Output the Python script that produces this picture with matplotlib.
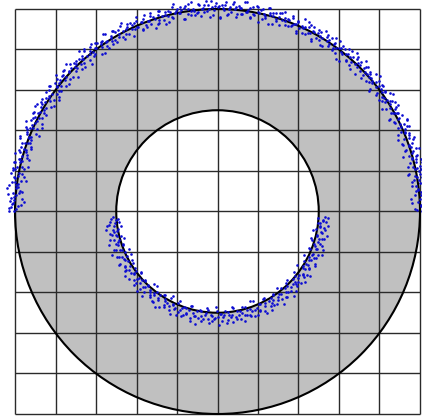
import numpy as np
import matplotlib
matplotlib.use("Agg")
import matplotlib.pyplot as plt
from matplotlib.patches import Wedge, Circle

# ring geometry (outer radius = 1)
outer_radius = 1.0
inner_radius = 0.5
grid_ticks = [-1.0, -0.8, -0.6, -0.4, -0.2, 0.0, 0.2, 0.4, 0.6, 0.8, 1.0]

# points along the outer edge: angle (deg) and radial offset (x 0.001)
outer_deg = [
    0.2, 0.8, 1.5, 1.9, 2.7, 3.3, 3.8, 4.5, 5.1, 5.8,
    6.4, 6.9, 7.6, 8.1, 8.8, 9.2, 9.9, 10.6, 11.0, 11.7,
    12.3, 12.8, 13.6, 14.1, 14.7, 15.4, 15.9, 16.5, 17.2, 17.8,
    18.1, 18.9, 19.4, 20.2, 20.7, 21.3, 21.8, 22.6, 23.0, 23.7,
    24.4, 24.9, 25.5, 26.1, 26.8, 27.2, 28.0, 28.5, 29.1, 29.6,
    30.3, 30.8, 31.6, 32.0, 32.7, 33.4, 33.9, 34.5, 35.0, 35.8,
    36.2, 36.9, 37.5, 38.0, 38.8, 39.3, 39.8, 40.6, 41.1, 41.7,
    42.4, 42.9, 43.5, 44.2, 44.6, 45.4, 45.9, 46.5, 47.1, 47.7,
    48.3, 48.8, 49.6, 50.1, 50.7, 51.2, 51.9, 52.4, 53.1, 53.6,
    54.2, 54.9, 55.3, 56.1, 56.6, 57.2, 57.9, 58.3, 59.0, 59.6,
    60.4, 60.8, 61.5, 62.1, 62.6, 63.3, 63.8, 64.6, 65.0, 65.7,
    66.3, 66.9, 67.4, 68.2, 68.7, 69.3, 69.8, 70.5, 71.2, 71.6,
    72.4, 72.9, 73.5, 74.0, 74.8, 75.2, 75.9, 76.4, 77.1, 77.7,
    78.2, 78.8, 79.5, 80.1, 80.6, 81.4, 81.8, 82.5, 83.1, 83.7,
    84.3, 84.8, 85.6, 86.0, 86.7, 87.3, 87.9, 88.4, 89.2, 89.6,
    90.3, 90.9, 91.4, 92.1, 92.7, 93.2, 93.9, 94.5, 95.0, 95.7,
    96.4, 96.8, 97.5, 98.2, 98.6, 99.3, 99.9, 100.4, 101.1, 101.7,
    102.2, 102.9, 103.4, 104.1, 104.7, 105.3, 105.8, 106.6, 107.0, 107.7,
    108.3, 108.8, 109.5, 110.0, 110.8, 111.2, 111.9, 112.4, 113.1, 113.6,
    114.4, 114.9, 115.3, 116.1, 116.7, 117.2, 117.8, 118.5, 119.1, 119.7,
    120.2, 120.9, 121.4, 122.0, 122.8, 123.3, 123.8, 124.6, 125.1, 125.6,
    126.3, 126.8, 127.6, 128.1, 128.6, 129.4, 129.9, 130.4, 131.2, 131.7,
    132.2, 132.9, 133.5, 134.0, 134.7, 135.3, 135.9, 136.5, 137.0, 137.8,
    138.3, 138.9, 139.4, 140.2, 140.6, 141.3, 141.9, 142.4, 143.1, 143.7,
    144.2, 144.8, 145.5, 146.1, 146.6, 147.4, 147.8, 148.5, 149.2, 149.6,
    150.4, 150.9, 151.5, 152.0, 152.7, 153.3, 153.8, 154.6, 155.1, 155.7,
    156.2, 156.9, 157.4, 158.1, 158.7, 159.2, 159.9, 160.5, 161.0, 161.8,
    162.3, 162.8, 163.6, 164.1, 164.7, 165.2, 165.9, 166.4, 167.1, 167.7,
    168.2, 168.9, 169.5, 170.0, 170.7, 171.3, 171.8, 172.6, 173.1, 173.6,
    174.3, 174.8, 175.4, 176.2, 176.7, 177.3, 177.8, 178.5, 179.1, 179.8,
    0.5, 1.1, 1.8, 2.4, 3.0, 3.5, 4.2, 4.8, 5.5, 6.0,
    6.7, 7.2, 7.8, 8.5, 9.0, 9.6, 10.3, 10.8, 11.4, 12.1,
    12.6, 13.2, 13.9, 14.4, 15.0, 15.7, 16.2, 16.8, 17.5, 18.0,
    18.5, 19.2, 19.8, 20.4, 21.0, 21.6, 22.2, 22.9, 23.4, 24.0,
    24.7, 25.2, 25.8, 26.5, 27.0, 27.6, 28.3, 28.8, 29.4, 30.0,
    30.6, 31.2, 31.9, 32.4, 33.0, 33.7, 34.2, 34.8, 35.5, 36.0,
    36.5, 37.2, 37.8, 38.5, 39.0, 39.6, 40.2, 40.9, 41.4, 42.0,
    42.7, 43.2, 43.8, 44.4, 45.0, 45.7, 46.2, 46.9, 47.4, 48.0,
    48.6, 49.2, 49.8, 50.4, 51.0, 51.6, 52.2, 52.8, 53.4, 54.0,
    54.6, 55.1, 55.8, 56.4, 57.0, 57.6, 58.1, 58.8, 59.4, 60.0,
    60.6, 61.2, 61.8, 62.4, 63.0, 63.6, 64.2, 64.8, 65.4, 66.0,
    66.6, 67.2, 67.8, 68.4, 69.0, 69.6, 70.2, 70.8, 71.4, 72.0,
    72.6, 73.2, 73.8, 74.4, 75.0, 75.6, 76.2, 76.8, 77.4, 78.0,
    78.5, 79.1, 79.8, 80.4, 81.0, 81.6, 82.1, 82.8, 83.4, 84.0,
    84.6, 85.1, 85.8, 86.4, 87.0, 87.6, 88.2, 88.8, 89.4, 90.0,
    90.6, 91.2, 91.8, 92.4, 93.0, 93.6, 94.2, 94.8, 95.4, 96.0,
    96.6, 97.2, 97.8, 98.4, 99.0, 99.6, 100.2, 100.8, 101.4, 102.0,
    102.6, 103.2, 103.8, 104.4, 105.0, 105.6, 106.2, 106.8, 107.4, 108.0,
    108.6, 109.2, 109.8, 110.4, 111.0, 111.6, 112.2, 112.8, 113.4, 114.0,
    114.6, 115.2, 115.8, 116.4, 117.0, 117.6, 118.2, 118.8, 119.4, 120.0,
    120.6, 121.2, 121.8, 122.4, 123.0, 123.6, 124.2, 124.8, 125.4, 126.0,
    126.6, 127.2, 127.8, 128.4, 129.0, 129.6, 130.2, 130.8, 131.4, 132.0,
    132.6, 133.2, 133.8, 134.4, 135.0, 135.6, 136.2, 136.8, 137.4, 138.0,
    138.6, 139.2, 139.8, 140.4, 141.0, 141.6, 142.2, 142.8, 143.4, 144.0,
    144.6, 145.2, 145.8, 146.4, 147.0, 147.6, 148.2, 148.8, 149.4, 150.0,
    150.6, 151.2, 151.8, 152.4, 153.0, 153.6, 154.2, 154.8, 155.4, 156.0,
    156.6, 157.2, 157.8, 158.4, 159.0, 159.6, 160.2, 160.8, 161.4, 162.0,
    162.6, 163.2, 163.8, 164.4, 165.0, 165.6, 166.2, 166.8, 167.4, 168.0,
    168.6, 169.2, 169.8, 170.4, 171.0, 171.6, 172.2, 172.8, 173.4, 174.0,
    174.6, 175.2, 175.8, 176.4, 177.0, 177.6, 178.2, 178.8, 179.4, 180.0,
]
outer_off = [
    12, -25, 4, 33, -8, 18, -41, 7, 26, -14,
    -3, 21, -30, 9, 44, -17, 2, 15, -36, 28,
    6, -11, 38, -22, 13, -5, 24, -46, 10, 31,
    -19, 1, 17, -28, 35, -9, 20, 5, -33, 11,
    27, -15, -2, 40, -24, 8, -38, 16, 3, -12,
    22, -6, 30, -43, 14, 0, -20, 36, -10, 19,
    -27, 9, 25, -4, -35, 13, 42, -16, 6, -1,
    18, -31, 3, 23, -13, 47, -7, 10, -39, 29,
    -8, 15, -21, 34, 2, -44, 20, -3, 12, -26,
    37, -11, 7, -18, 26, -1, 16, -34, 41, 4,
    -14, 24, -29, 11, -5, 32, -23, 8, 1, 45,
    -37, 17, 5, -9, 28, -19, 13, -2, 39, -30,
    9, -16, 21, 3, -42, 15, 34, -7, -24, 19,
    2, 30, -12, 25, -32, 7, -4, 43, -18, 10,
    -21, 14, 36, -10, 1, -28, 22, 6, -45, 16,
    29, -3, 11, -38, 19, 40, -15, 4, 24, -8,
    -25, 8, -1, 33, -13, 17, -36, 27, 0, 12,
    46, -20, 15, -6, 21, -40, 5, 31, -11, -29,
    13, 38, -17, 2, -26, 18, 10, -33, 23, -4,
    -9, 26, -40, 14, 7, -15, 35, -22, 1, 20,
    31, -12, 6, -27, 42, 0, -18, 16, -6, 24,
    -34, 11, 28, -2, -20, 37, 4, -41, 19, 9,
    15, -7, -30, 22, 3, -14, 44, 8, -23, 30,
    -1, 19, -36, 12, 27, -10, 5, -26, 34, -17,
    23, -44, 10, 1, -12, 29, -31, 17, 40, -5,
    -16, 6, 32, -21, 14, -3, 25, -39, 9, 2,
    35, -24, 18, -8, 0, 43, -14, 11, -28, 21,
    -6, 28, -19, 4, -37, 16, 7, 33, -11, -22,
    20, -2, 39, -32, 12, -17, 26, 3, -9, 47,
    -29, 13, -4, 24, 8, -43, 18, -13, 30, 5,
    -17, 29, 6, -38, 14, 2, 33, -21, 9, -2,
    41, -13, 19, -30, 5, 25, -9, -44, 16, 0,
    23, -33, 11, 37, -6, 20, -15, 3, 45, -27,
    8, -1, -24, 30, 13, -40, 21, 7, -12, 36,
    -5, 18, 39, -20, 2, 27, -35, 12, -8, 15,
    34, -26, 4, 22, -11, 43, -3, -31, 17, 6,
    -18, 28, 10, -42, 24, -7, 1, 35, -23, 14,
    3, -14, 31, 16, -37, 9, 26, -4, 20, -28,
    44, 5, -19, 12, 32, -10, -46, 23, 7, -1,
    -22, 17, 38, -6, 11, -33, 28, 0, -16, 25,
    13, -39, 4, 29, -12, 19, 42, -25, 8, -7,
    -30, 22, 1, -15, 36, 10, -21, 14, -3, 33,
    26, -8, -34, 18, 5, 40, -17, 2, 24, -43,
    7, 31, -10, -26, 15, -2, 45, -18, 11, 21,
    -36, 3, 27, 12, -23, 34, -5, 19, -41, 9,
    16, -29, 38, 0, -9, 24, 6, -33, 30, -14,
    -4, 42, -20, 10, 28, -38, 13, -1, 22, 4,
    37, -11, 18, -32, 7, -16, 32, 15, -27, 1,
    -45, 20, 2, 35, -13, 8, -24, 41, -6, 17,
    11, -3, 29, -19, 46, 4, -34, 23, -10, 30,
    -25, 14, -7, 39, 1, -29, 18, 9, -40, 26,
    5, 36, -17, 12, -1, 31, -22, 44, 3, -12,
    -32, 21, 8, -9, 27, 15, -43, 6, 33, -20,
    19, -5, 43, -28, 10, 24, 0, -15, 37, -35,
    2, 30, -22, 16, -39, 7, 28, -11, 13, 40,
    -26, 9, 34, -4, 20, -31, 3, 47, -18, 12,
    25, -42, 14, 1, -14, 38, -7, 22, -30, 6,
    -10, 17, 42, -24, 9, -2, 29, -37, 16, 33,
    31, -16, 3, 21, -45, 13, -8, 36, 0, -21,
    -13, 40, 8, -35, 24, 11, -27, 19, -3, 28,
]

# points along the inner edge (lower half)
inner_deg = [
    183.2, 184.1, 185.5, 186.4, 187.6, 188.5, 189.9, 190.8, 191.7, 193.0,
    194.1, 195.2, 196.3, 197.4, 198.8, 199.6, 200.9, 202.1, 203.0, 204.2,
    205.4, 206.3, 207.7, 208.6, 209.8, 210.9, 212.1, 213.0, 214.3, 215.4,
    216.5, 217.6, 218.9, 219.8, 221.0, 222.2, 223.1, 224.5, 225.4, 226.6,
    227.7, 228.8, 230.0, 231.1, 232.3, 233.2, 234.6, 235.5, 236.8, 237.9,
    239.0, 240.1, 241.4, 242.3, 243.6, 244.7, 245.8, 247.0, 248.1, 249.2,
    250.4, 251.5, 252.6, 253.8, 254.9, 256.0, 257.3, 258.2, 259.5, 260.6,
    261.7, 262.9, 264.0, 265.1, 266.4, 267.3, 268.6, 269.7, 270.8, 272.0,
    273.1, 274.3, 275.4, 276.5, 277.8, 278.7, 280.0, 281.1, 282.2, 283.4,
    284.5, 285.7, 286.8, 287.9, 289.1, 290.2, 291.4, 292.5, 293.6, 294.9,
    296.0, 297.1, 298.3, 299.4, 300.6, 301.7, 302.8, 304.0, 305.2, 306.3,
    307.4, 308.6, 309.7, 310.9, 312.0, 313.1, 314.3, 315.5, 316.6, 317.7,
    318.9, 320.0, 321.2, 322.3, 323.4, 324.6, 325.8, 326.9, 328.0, 329.2,
    330.3, 331.5, 332.6, 333.7, 334.9, 336.1, 337.2, 338.3, 339.5, 340.6,
    341.8, 342.9, 344.0, 345.2, 346.4, 347.5, 348.6, 349.8, 351.0, 352.1,
    353.3, 354.4, 355.6, 356.8,
    183.8, 184.7, 186.0, 187.0, 188.1, 189.2, 190.3, 191.3, 192.4, 193.5,
    194.6, 195.8, 196.9, 198.0, 199.2, 200.3, 201.5, 202.6, 203.6, 204.8,
    205.9, 207.0, 208.2, 209.2, 210.4, 211.5, 212.6, 213.7, 214.9, 216.0,
    217.1, 218.3, 219.3, 220.4, 221.6, 222.7, 223.8, 224.9, 226.0, 227.2,
    228.3, 229.4, 230.6, 231.7, 232.8, 233.9, 235.1, 236.2, 237.3, 238.4,
    239.6, 240.7, 241.9, 243.0, 244.1, 245.2, 246.4, 247.5, 248.6, 249.8,
    250.9, 252.0, 253.2, 254.3, 255.4, 256.6, 257.7, 258.9, 260.0, 261.1,
    262.3, 263.4, 264.5, 265.7, 266.8, 267.9, 269.1, 270.2, 271.4, 272.5,
    273.6, 274.8, 275.9, 277.1, 278.2, 279.3, 280.5, 281.6, 282.8, 283.9,
    285.1, 286.2, 287.3, 288.5, 289.6, 290.8, 291.9, 293.0, 294.2, 295.4,
    296.5, 297.6, 298.8, 299.9, 301.1, 302.2, 303.4, 304.5, 305.7, 306.8,
    307.9, 309.1, 310.3, 311.4, 312.5, 313.7, 314.8, 316.0, 317.1, 318.3,
    319.4, 320.6, 321.7, 322.8, 324.0, 325.2, 326.3, 327.4, 328.6, 329.7,
    330.9, 332.0, 333.2, 334.3, 335.5, 336.6, 337.7, 338.9, 340.0, 341.2,
    342.3, 343.5, 344.6, 345.8, 346.9, 348.1, 349.2, 350.4, 351.5, 352.7,
    353.8, 355.0, 356.2, 357.3,
]
inner_off = [
    18, -6, 34, 9, 52, -20, 25, 3, 41, 14,
    -11, 29, 7, 60, 19, -2, 37, 11, -25, 46,
    22, 1, 15, 55, -14, 31, 8, 43, -4, 27,
    12, 49, -17, 20, 36, 5, -8, 58, 24, 2,
    39, -22, 16, 30, 10, -3, 47, 21, 63, -12,
    6, 33, 17, -28, 44, 13, 26, -7, 51, 19,
    0, 38, 23, 9, -15, 56, 28, 4, 35, -1,
    48, 16, -19, 31, 11, 42, 24, -9, 61, 7,
    20, -5, 36, 14, 53, -23, 27, 2, 45, 17,
    -13, 32, 8, 40, 22, -30, 50, 15, 29, 3,
    57, 10, -16, 37, 25, 1, 46, -6, 19, 34,
    13, 42, -10, 28, 64, 5, 21, -18, 39, 16,
    30, -2, 52, 11, 24, 44, -26, 18, 35, 7,
    -8, 47, 22, 3, 38, 14, 59, -14, 26, 9,
    41, 17, -21, 33, 6, 54, 20, -4, 31, 12,
    2, 36, 25, 48,
    27, 4, -13, 40, 15, 58, -3, 21, 33, 8,
    50, -18, 12, 26, -7, 44, 18, 62, 1, 35,
    -24, 16, 47, 6, 29, -10, 38, 23, 55, -1,
    14, -20, 32, 9, 49, 24, -5, 41, 17, 3,
    60, 11, -27, 36, 20, 45, 0, 28, -9, 53,
    15, 39, -14, 25, 7, 57, 19, -22, 34, 10,
    46, 2, 30, -17, 42, 13, 26, 65, -6, 21,
    37, 5, -11, 51, 18, 31, -29, 23, 8, 43,
    12, 54, -3, 27, 16, -15, 40, 22, 4, 59,
    29, -8, 35, 10, 48, 19, -24, 33, 1, 45,
    24, -12, 56, 8, 37, 15, -4, 30, 62, 11,
    -19, 41, 20, 5, 34, -9, 52, 17, 28, 0,
    43, 14, -16, 36, 23, 58, 6, -1, 31, 19,
    49, 9, -23, 27, 13, 39, -7, 21, 55, 4,
    32, -13, 18, 45, 2, 26, -20, 38, 11, 50,
    7, 24, -5, 33,
]


def to_xy(deg, off, base):
    t = np.radians(np.array(deg))
    r = base + np.array(off) / 1000.0
    return r * np.cos(t), r * np.sin(t)


fig = plt.figure(figsize=(4.22, 4.16), dpi=100)
ax = fig.add_axes([0, 0, 1, 1])
ax.set_xlim(-1.0741, 1.0099)
ax.set_ylim(-1.0099, 1.0444)
ax.axis("off")

ring = Wedge((0, 0), outer_radius, 0, 360, width=outer_radius - inner_radius,
             facecolor="#c0c0c0", edgecolor="none", zorder=1)
ax.add_patch(ring)

ax.vlines(grid_ticks, -1, 1, colors="#2a2a2a", linewidth=1.0, zorder=2)
ax.hlines(grid_ticks, -1, 1, colors="#2a2a2a", linewidth=1.0, zorder=2)

for rad in (outer_radius, inner_radius):
    ax.add_patch(Circle((0, 0), rad, fill=False, edgecolor="black",
                        linewidth=1.5, zorder=3))

ox, oy = to_xy(outer_deg, outer_off, outer_radius)
ix, iy = to_xy(inner_deg, inner_off, inner_radius)
ax.scatter(ox, oy, s=3.6, color="#0c0cd2", linewidths=0, zorder=4)
ax.scatter(ix, iy, s=3.6, color="#0c0cd2", linewidths=0, zorder=4)

fig.savefig("out.png", dpi=100)
